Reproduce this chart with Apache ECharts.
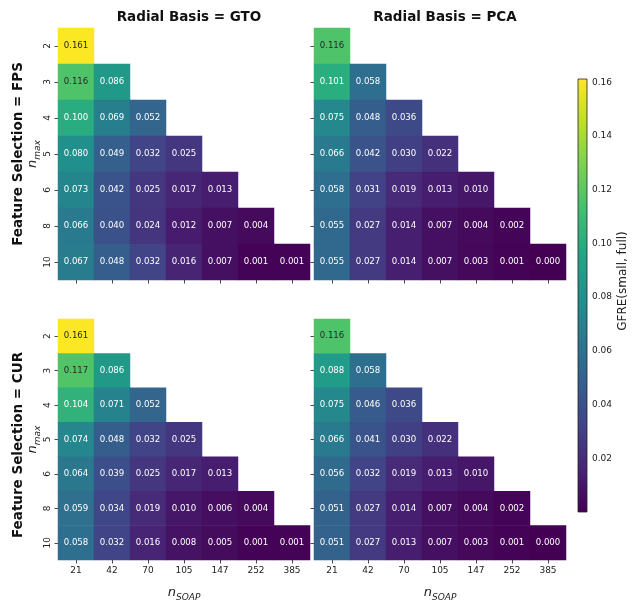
<!DOCTYPE html>
<html>
<head>
<meta charset="utf-8">
<script src="https://cdn.jsdelivr.net/npm/echarts@6/dist/echarts.min.js"></script>
<style>html,body{margin:0;padding:0;background:#fff;}#chart{width:643px;height:603px;}</style>
</head>
<body>
<div id="chart"></div>
<script>
// ---- data ----
const nSOAP = ['21', '42', '70', '105', '147', '252', '385'];
const nMax = ['2', '3', '4', '5', '6', '8', '10'];
const colTitles = ['Radial Basis = GTO', 'Radial Basis = PCA'];
const rowTitles = ['Feature Selection = FPS', 'Feature Selection = CUR'];
const cbarTicks = [0.02, 0.04, 0.06, 0.08, 0.10, 0.12, 0.14, 0.16];
const cbarLabel = 'GFRE(small, full)';
const vMin = 0.0;
const vMax = 0.1612;

const gfreFpsGto = [
  [0.161],
  [0.116, 0.086],
  [0.100, 0.069, 0.052],
  [0.080, 0.049, 0.032, 0.025],
  [0.073, 0.042, 0.025, 0.017, 0.013],
  [0.066, 0.040, 0.024, 0.012, 0.007, 0.004],
  [0.067, 0.048, 0.032, 0.016, 0.007, 0.001, 0.001]
];
const gfreFpsPca = [
  [0.116],
  [0.101, 0.058],
  [0.075, 0.048, 0.036],
  [0.066, 0.042, 0.030, 0.022],
  [0.058, 0.031, 0.019, 0.013, 0.010],
  [0.055, 0.027, 0.014, 0.007, 0.004, 0.002],
  [0.055, 0.027, 0.014, 0.007, 0.003, 0.001, 0.000]
];
const gfreCurGto = [
  [0.161],
  [0.117, 0.086],
  [0.104, 0.071, 0.052],
  [0.074, 0.048, 0.032, 0.025],
  [0.064, 0.039, 0.025, 0.017, 0.013],
  [0.059, 0.034, 0.019, 0.010, 0.006, 0.004],
  [0.058, 0.032, 0.016, 0.008, 0.005, 0.001, 0.001]
];
const gfreCurPca = [
  [0.116],
  [0.088, 0.058],
  [0.075, 0.046, 0.036],
  [0.066, 0.041, 0.030, 0.022],
  [0.056, 0.032, 0.019, 0.013, 0.010],
  [0.051, 0.027, 0.014, 0.007, 0.004, 0.002],
  [0.051, 0.027, 0.013, 0.007, 0.003, 0.001, 0.000]
];

// ---- styling / layout ----
const FONT = 'DejaVu Sans';
const viridis = ['#440154', '#482475', '#414487', '#355f8d', '#2a788e', '#21918c',
  '#22a884', '#44bf70', '#7ad151', '#bddf26', '#fde725'];
const panels = [
  { data: gfreFpsGto, left: 58, top: 28, xLabels: false, yLabels: true },
  { data: gfreFpsPca, left: 314, top: 28, xLabels: false, yLabels: false },
  { data: gfreCurGto, left: 58, top: 319, xLabels: true, yLabels: true },
  { data: gfreCurPca, left: 314, top: 319, xLabels: true, yLabels: false }
];
const SIZE = 252;
const CB = { left: 578, top: 79, width: 9, height: 433 };

const richSub = {
  n: { fontFamily: FONT, fontStyle: 'italic', fontSize: 13, color: '#222', verticalAlign: 'bottom', lineHeight: 16 },
  s: { fontFamily: FONT, fontStyle: 'italic', fontSize: 9, color: '#222', verticalAlign: 'bottom', lineHeight: 16, padding: [0, 0, -3, 0] }
};

const grid = [], xAxis = [], yAxis = [], series = [];
panels.forEach((p, i) => {
  grid.push({ left: p.left, top: p.top, width: SIZE, height: SIZE });
  xAxis.push({
    type: 'category', data: nSOAP, gridIndex: i, position: 'bottom',
    axisLine: { show: false },
    axisTick: { show: true, alignWithLabel: true, length: 3.5, lineStyle: { color: '#333', width: 0.9 } },
    axisLabel: { show: p.xLabels, fontFamily: FONT, fontSize: 9, color: '#222', margin: 6 },
    splitLine: { show: false },
    name: p.xLabels ? '{n|n}{s|SOAP}' : '',
    nameLocation: 'middle', nameGap: 23,
    nameTextStyle: { rich: richSub }
  });
  yAxis.push({
    type: 'category', data: nMax, gridIndex: i, inverse: true,
    axisLine: { show: false },
    axisTick: { show: true, alignWithLabel: true, length: 3.5, lineStyle: { color: '#333', width: 0.9 } },
    axisLabel: { show: p.yLabels, fontFamily: FONT, fontSize: 9, color: '#222', rotate: 90, margin: 6 },
    splitLine: { show: false },
    name: p.yLabels ? '{n|n}{s|max}' : '',
    nameLocation: 'middle', nameGap: 16, nameRotate: 90,
    nameTextStyle: { rich: richSub }
  });
  const cells = [];
  p.data.forEach((row, r) => {
    row.forEach((v, c) => {
      cells.push({ value: [c, r, v], label: { color: v > 0.11 ? '#262626' : '#ffffff' } });
    });
  });
  series.push({
    type: 'heatmap', xAxisIndex: i, yAxisIndex: i, data: cells,
    label: { show: true, fontFamily: FONT, fontSize: 8.6, formatter: (prm) => prm.value[2].toFixed(3) },
    itemStyle: { borderWidth: 0 },
    emphasis: { disabled: true },
    progressive: 0
  });
});

// colorbar axis
grid.push({ left: CB.left, top: CB.top, width: CB.width, height: CB.height });
xAxis.push({ type: 'value', gridIndex: 4, show: false, min: 0, max: 1 });
yAxis.push({
  type: 'value', gridIndex: 4, min: vMin, max: vMax, position: 'right',
  axisLine: { show: false },
  axisTick: { show: true, length: 3.5, customValues: cbarTicks, lineStyle: { color: '#333', width: 0.9 } },
  axisLabel: { show: true, customValues: cbarTicks, fontFamily: FONT, fontSize: 9, color: '#222', margin: 5,
    formatter: (v) => v.toFixed(2) },
  splitLine: { show: false }
});

const titles = [];
colTitles.forEach((t, i) => {
  titles.push({
    text: t, left: panels[i].left + SIZE / 2, top: 5, textAlign: 'center',
    textStyle: { fontFamily: FONT, fontWeight: 'bold', fontSize: 13.5, color: '#111' }
  });
});

const graphic = [];
rowTitles.forEach((t, i) => {
  graphic.push({
    type: 'text', x: 18, y: panels[i * 2].top + SIZE / 2, rotation: Math.PI / 2,
    style: { text: t, fontFamily: FONT, fontWeight: 'bold', fontSize: 13.5, fill: '#111', align: 'center', verticalAlign: 'middle' }
  });
});
graphic.push({
  type: 'text', x: 623, y: 281, rotation: Math.PI / 2,
  style: { text: cbarLabel, fontFamily: FONT, fontSize: 12, fill: '#222', align: 'center', verticalAlign: 'middle' }
});
graphic.push({
  type: 'rect', shape: { x: CB.left, y: CB.top, width: CB.width, height: CB.height }, z: 10,
  style: {
    fill: {
      type: 'linear', x: 0, y: 1, x2: 0, y2: 0,
      colorStops: viridis.map((c, k) => ({ offset: k / (viridis.length - 1), color: c }))
    },
    stroke: '#222', lineWidth: 0.8
  }
});

const chart = echarts.init(document.getElementById('chart'), null, { renderer: 'canvas' });
chart.setOption({
  animation: false,
  backgroundColor: '#ffffff',
  title: titles,
  grid: grid,
  xAxis: xAxis,
  yAxis: yAxis,
  visualMap: {
    type: 'continuous', show: false, min: vMin, max: vMax, seriesIndex: [0, 1, 2, 3],
    inRange: { color: viridis }
  },
  graphic: graphic,
  series: series
});
</script>
</body>
</html>
